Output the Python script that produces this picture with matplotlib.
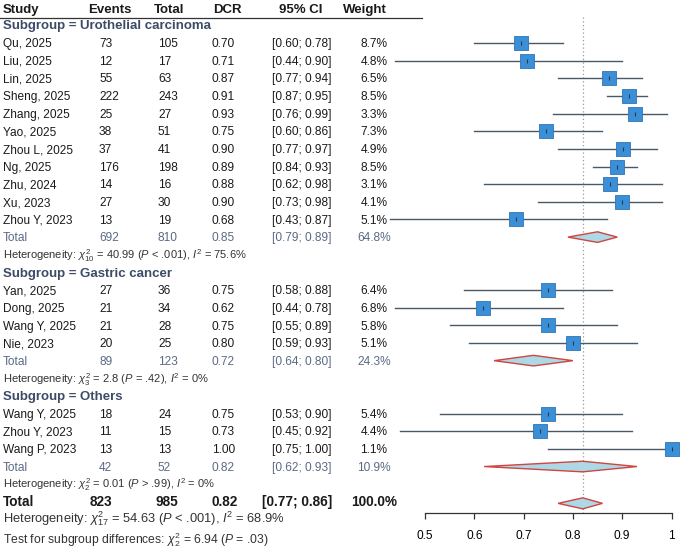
import numpy as np
import matplotlib.pyplot as plt
from matplotlib.patches import Polygon

plt.rcParams['font.family'] = ['Liberation Sans', 'DejaVu Sans']
plt.rcParams['mathtext.fontset'] = 'custom'
plt.rcParams['mathtext.rm'] = 'Liberation Sans'
plt.rcParams['mathtext.it'] = 'Liberation Sans:italic'
plt.rcParams['mathtext.bf'] = 'Liberation Sans:bold'

# ── Data ──────────────────────────────────────────────────────────────────────
group_names = ["Urothelial carcinoma", "Gastric cancer", "Others"]

uc_study  = ["Qu, 2025", "Liu, 2025", "Lin, 2025", "Sheng, 2025", "Zhang, 2025", "Yao, 2025",
             "Zhou L, 2025", "Ng, 2025", "Zhu, 2024", "Xu, 2023", "Zhou Y, 2023"]
uc_events = [73, 12, 55, 222, 25, 38, 37, 176, 14, 27, 13]
uc_total  = [105, 17, 63, 243, 27, 51, 41, 198, 16, 30, 19]
uc_lo     = [0.60, 0.44, 0.77, 0.87, 0.76, 0.60, 0.77, 0.84, 0.62, 0.73, 0.43]
uc_hi     = [0.78, 0.90, 0.94, 0.95, 0.99, 0.86, 0.97, 0.93, 0.98, 0.98, 0.87]
uc_weight = [8.7, 4.8, 6.5, 8.5, 3.3, 7.3, 4.9, 8.5, 3.1, 4.1, 5.1]

gc_study  = ["Yan, 2025", "Dong, 2025", "Wang Y, 2025", "Nie, 2023"]
gc_events = [27, 21, 21, 20]
gc_total  = [36, 34, 28, 25]
gc_lo     = [0.58, 0.44, 0.55, 0.59]
gc_hi     = [0.88, 0.78, 0.89, 0.93]
gc_weight = [6.4, 6.8, 5.8, 5.1]

ot_study  = ["Wang Y, 2025", "Zhou Y, 2023", "Wang P, 2023"]
ot_events = [18, 11, 13]
ot_total  = [24, 15, 13]
ot_lo     = [0.53, 0.45, 0.75]
ot_hi     = [0.90, 0.92, 1.00]
ot_weight = [5.4, 4.4, 1.1]

# subgroup pooled results
sub_events = [692, 89, 42]
sub_total  = [810, 123, 52]
sub_dcr    = [0.85, 0.72, 0.82]
sub_lo     = [0.79, 0.64, 0.62]
sub_hi     = [0.89, 0.80, 0.93]
sub_weight = [64.8, 24.3, 10.9]
sub_het = [r"Heterogeneity: $\chi^2_{10}$ = 40.99 ($P$ < .001), $I^2$ = 75.6%",
           r"Heterogeneity: $\chi^2_{3}$ = 2.8 ($P$ = .42), $I^2$ = 0%",
           r"Heterogeneity: $\chi^2_{2}$ = 0.01 ($P$ > .99), $I^2$ = 0%"]

# overall
all_events, all_total = 823, 985
all_dcr, all_lo, all_hi = 0.82, 0.77, 0.86
all_het  = r"Heterogeneity: $\chi^2_{17}$ = 54.63 ($P$ < .001), $I^2$ = 68.9%"
test_sub = r"Test for subgroup differences: $\chi^2_{2}$ = 6.94 ($P$ = .03)"

xticks = [0.5, 0.6, 0.7, 0.8, 0.9, 1.0]
xtick_labels = ["0.5", "0.6", "0.7", "0.8", "0.9", "1"]

groups = [
    (uc_study, uc_events, uc_total, uc_lo, uc_hi, uc_weight),
    (gc_study, gc_events, gc_total, gc_lo, gc_hi, gc_weight),
    (ot_study, ot_events, ot_total, ot_lo, ot_hi, ot_weight),
]

# ── Styling ───────────────────────────────────────────────────────────────────
W, H = 680, 549
FS = 8.6          # normal row text
FS_HEAD = 9.5     # bold headers
FS_HET = 8.0
FS_TOTAL = 9.8
C_TEXT = "#1a1a1a"
C_SUB = "#3c4c66"
C_SUBTOT = "#5a6a84"
C_LINE = "#4a5868"
C_SQ = "#3a8fd6"
C_SQ_EDGE = "#2f75b5"
C_DIA = "#add8e6"
C_DIA_EDGE = "#d0453f"

X_STUDY, X_EV, X_TOT, X_DCR, X_CI, X_W = 3, 99, 158, 212, 332, 374
X0, X1, Y_AXIS = 425, 671.5, 513


def ry(k):
    return 25.3 + 17.65 * k


fig = plt.figure(figsize=(W / 100, H / 100), dpi=100)
tab = fig.add_axes([0, 0, 1, 1])
tab.set_xlim(0, W)
tab.set_ylim(H, 0)
tab.axis("off")

fp = fig.add_axes([X0 / W, (H - Y_AXIS) / H, (X1 - X0) / W, Y_AXIS / H])
fp.set_xlim(0.5, 1.0)
fp.set_ylim(Y_AXIS, 0)
fp.patch.set_visible(False)
for s in ["top", "left", "right"]:
    fp.spines[s].set_visible(False)
fp.spines["bottom"].set_color("#333333")
fp.spines["bottom"].set_linewidth(0.9)
fp.set_yticks([])
fp.set_xticks(xticks)
fp.set_xticklabels(xtick_labels, fontsize=FS)
fp.tick_params(axis="x", direction="out", length=4.3, width=0.9, color="#333333", pad=8)


def txt(x, y, s, ha="left", **kw):
    kw.setdefault("fontsize", FS)
    kw.setdefault("color", C_TEXT)
    tab.text(x, y + 4.2, s, ha=ha, va="baseline", **kw)


# header
y_head = 8.5
txt(X_STUDY, y_head, "Study", fontweight="bold", fontsize=FS_HEAD)
txt(88, y_head, "Events", fontweight="bold", fontsize=FS_HEAD)
txt(154, y_head, "Total", fontweight="bold", fontsize=FS_HEAD)
txt(213, y_head, "DCR", fontweight="bold", fontsize=FS_HEAD)
txt(301, y_head, "95% CI", ha="center", fontweight="bold", fontsize=FS_HEAD)
txt(343, y_head, "Weight", fontweight="bold", fontsize=FS_HEAD)
tab.plot([0, 422], [18, 18], color="#333333", lw=0.9)

sq_size = (14 * 0.72) ** 2
k = 0
for g, (study, ev, tot, lo, hi, wt) in enumerate(groups):
    txt(X_STUDY, ry(k), f"Subgroup = {group_names[g]}", fontweight="bold",
        fontsize=FS_HEAD, color=C_SUB)
    k += 1
    for i in range(len(study)):
        y = ry(k)
        est = ev[i] / tot[i]
        txt(X_STUDY, y, study[i])
        txt(X_EV, y, f"{ev[i]}")
        txt(X_TOT, y, f"{tot[i]}")
        txt(X_DCR, y, f"{est:.2f}")
        txt(X_CI, y, f"[{lo[i]:.2f}; {hi[i]:.2f}]", ha="right")
        txt(X_W, y, f"{wt[i]:.1f}%", ha="center")
        fp.plot([lo[i], hi[i]], [y, y], color=C_LINE, lw=1.0, clip_on=False, zorder=2)
        fp.scatter([est], [y], marker="s", s=sq_size, color=C_SQ, edgecolor=C_SQ_EDGE,
                   linewidth=0.6, clip_on=False, zorder=3)
        fp.scatter([est], [y], marker="|", s=12, color="#2a3848", linewidth=0.8,
                   clip_on=False, zorder=4)
        k += 1
    y = ry(k)
    txt(X_STUDY, y, "Total", color=C_SUBTOT)
    txt(X_EV, y, f"{sub_events[g]}", color=C_SUBTOT)
    txt(X_TOT, y, f"{sub_total[g]}", color=C_SUBTOT)
    txt(X_DCR, y, f"{sub_dcr[g]:.2f}", color=C_SUBTOT)
    txt(X_CI, y, f"[{sub_lo[g]:.2f}; {sub_hi[g]:.2f}]", ha="right", color=C_SUBTOT)
    txt(X_W, y, f"{sub_weight[g]:.1f}%", ha="center", color=C_SUBTOT)
    fp.add_patch(Polygon([(sub_lo[g], y), (sub_dcr[g], y - 5.3), (sub_hi[g], y),
                          (sub_dcr[g], y + 5.3)], closed=True, facecolor=C_DIA,
                         edgecolor=C_DIA_EDGE, lw=1.0, clip_on=False, zorder=3))
    k += 1
    txt(X_STUDY, ry(k), sub_het[g], fontsize=FS_HET, color="#333333")
    k += 1

# overall
y = ry(k)
txt(X_STUDY, y, "Total", fontweight="bold", fontsize=FS_TOTAL)
txt(90, y, f"{all_events}", fontweight="bold", fontsize=FS_TOTAL)
txt(155, y, f"{all_total}", fontweight="bold", fontsize=FS_TOTAL)
txt(X_DCR, y, f"{all_dcr:.2f}", fontweight="bold", fontsize=FS_TOTAL)
txt(X_CI, y, f"[{all_lo:.2f}; {all_hi:.2f}]", ha="right", fontweight="bold", fontsize=FS_TOTAL)
txt(X_W, y, "100.0%", ha="center", fontweight="bold", fontsize=FS_TOTAL)
yd = y + 1.5
fp.add_patch(Polygon([(all_lo, yd), (all_dcr, yd - 5.5), (all_hi, yd),
                      (all_dcr, yd + 5.5)], closed=True, facecolor=C_DIA,
                     edgecolor=C_DIA_EDGE, lw=1.0, clip_on=False, zorder=3))
txt(X_STUDY, ry(k + 1) - 1, all_het, fontsize=9.3, color="#333333")
txt(X_STUDY, ry(k + 2) + 2, test_sub, fontsize=8.7, color="#333333")

# reference line at pooled estimate
fp.plot([all_dcr, all_dcr], [17, Y_AXIS], color="#999999", lw=0.9, ls=(0, (1, 2)),
        zorder=1, clip_on=False)

fig.savefig("out.png", dpi=100)
